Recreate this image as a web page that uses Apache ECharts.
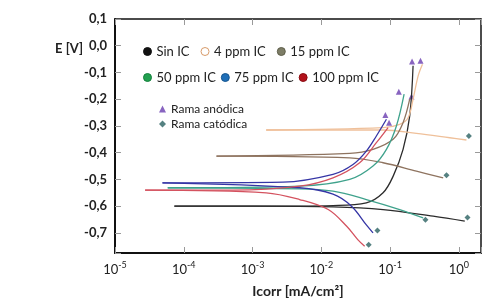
<!DOCTYPE html>
<html>
<head>
<meta charset="utf-8">
<script src="https://cdn.jsdelivr.net/npm/echarts@6/dist/echarts.min.js"></script>
<style>
  html, body { margin: 0; padding: 0; background: #fff; }
  #chart { width: 488px; height: 307px; }
</style>
</head>
<body>
<div id="chart"></div>
<script>
// curves: [Icorr (mA/cm2), E (V)]
var sinAnodic = [[7.3e-5, -0.600], [1e-3, -0.600], [0.0148, -0.5975], [0.0452, -0.5875], [0.0791, -0.550], [0.111, -0.4875], [0.1545, -0.3875], [0.193, -0.2625], [0.216, -0.075]];
var sinCathodic = [[7.3e-5, -0.600], [1e-3, -0.600], [0.0148, -0.6025], [0.0791, -0.6125], [0.423, -0.6375], [1.22, -0.656]];

var ic4Anodic = [[1.58e-3, -0.315], [0.0791, -0.306], [0.138, -0.294], [0.183, -0.269], [0.216, -0.200], [0.256, -0.1125], [0.296, -0.069]];
var ic4Cathodic = [[1.58e-3, -0.315], [0.0791, -0.315], [0.2415, -0.3275], [0.74, -0.344], [1.29, -0.3525]];

var ic15Anodic = [[2.99e-4, -0.4125], [0.0259, -0.4025], [0.0565, -0.3875], [0.1107, -0.350], [0.1545, -0.2875], [0.193, -0.200]];
var ic15Cathodic = [[2.99e-4, -0.4125], [0.0259, -0.419], [0.0791, -0.4375], [0.2415, -0.469], [0.592, -0.494]];

var ic50Anodic = [[5.85e-5, -0.531], [4.83e-3, -0.525], [0.0259, -0.500], [0.0565, -0.450], [0.0885, -0.3875], [0.1236, -0.300], [0.160, -0.181]];
var ic50Cathodic = [[5.85e-5, -0.531], [4.83e-3, -0.535], [0.0148, -0.544], [0.0452, -0.575], [0.138, -0.6125], [0.303, -0.644]];

var ic75Anodic = [[4.9e-5, -0.5125], [2.77e-3, -0.510], [0.0148, -0.481], [0.0289, -0.444], [0.0452, -0.394], [0.0632, -0.3375], [0.0885, -0.275]];
var ic75Cathodic = [[4.9e-5, -0.5125], [4.83e-3, -0.531], [0.0148, -0.555], [0.0275, -0.600], [0.0452, -0.670], [0.0565, -0.700]];

var ic100Anodic = [[2.74e-5, -0.540], [5.18e-4, -0.540], [4.83e-3, -0.525], [0.0148, -0.494], [0.0361, -0.4375], [0.0632, -0.3625], [0.0935, -0.306]];
var ic100Cathodic = [[2.74e-5, -0.540], [1.58e-3, -0.550], [4.83e-3, -0.575], [0.0126, -0.6125], [0.0234, -0.675], [0.0339, -0.725], [0.0427, -0.750]];

var anodicMarks = [[0.209, -0.059], [0.277, -0.056], [0.134, -0.1725], [0.205, -0.190], [0.0855, -0.259], [0.0966, -0.2875]];
var cathodicMarks = [[1.337, -0.6425], [1.40, -0.3375], [0.661, -0.484], [0.327, -0.651], [0.0655, -0.691], [0.0489, -0.744]];

var names = ['Sin IC', '4 ppm IC', '15 ppm IC', '50 ppm IC', '75 ppm IC', '100 ppm IC'];
var anodic = [sinAnodic, ic4Anodic, ic15Anodic, ic50Anodic, ic75Anodic, ic100Anodic];
var cathodic = [sinCathodic, ic4Cathodic, ic15Cathodic, ic50Cathodic, ic75Cathodic, ic100Cathodic];

var lineColors = ['#2b2b2b', '#efc09a', '#8e735f', '#3fa28c', '#3535a5', '#d4525f'];
var legendFill = ['#111111', '#ffffff', '#7d7d66', '#22a050', '#1f6fb8', '#b3121b'];
var legendBorder = ['#111111', '#d89b6a', '#5e5e4a', '#14803c', '#15558f', '#8a0c12'];

var font = 'Lato, "DejaVu Sans", sans-serif';

var series = [];
names.forEach(function(n, i) {
  [anodic[i], cathodic[i]].forEach(function(d) {
    series.push({
      name: n, type: 'line', data: d, showSymbol: false, smooth: 0.35,
      lineStyle: { color: lineColors[i], width: 1.3 },
      itemStyle: { color: legendFill[i] }
    });
  });
});
series.push({
  name: 'Rama anódica', type: 'scatter', data: anodicMarks, symbol: 'triangle', symbolSize: 6,
  itemStyle: { color: '#6a3db0' }
});
series.push({
  name: 'Rama catódica', type: 'scatter', data: cathodicMarks, symbol: 'diamond', symbolSize: 6,
  itemStyle: { color: '#2b6161' }
});

function legendItems(list) {
  return list.map(function(n) {
    var i = names.indexOf(n);
    return { name: n, itemStyle: { color: legendFill[i], borderColor: legendBorder[i], borderWidth: 1 } };
  });
}

var tickGray = '#9a9a9a';
var xBase = {
  type: 'log', logBase: 10, min: 1e-5, max: 2.1,
  axisLine: { onZero: false, lineStyle: { color: '#111', width: 2 } },
  axisTick: { inside: true, length: 6, lineStyle: { color: tickGray } },
  splitLine: { show: false }
};
var yBase = {
  type: 'value', min: -0.775, max: 0.1, minInterval: 0.1, maxInterval: 0.1,
  axisLine: { show: true, onZero: false, lineStyle: { color: '#111', width: 2 } },
  axisTick: { show: true, inside: true, length: 6, lineStyle: { color: tickGray } },
  splitLine: { show: false }
};

var chart = echarts.init(document.getElementById('chart'), null, { renderer: 'canvas' });
chart.setOption({
  animation: false,
  backgroundColor: '#fff',
  title: {
    text: 'E [V]', left: 50, top: 37,
    textStyle: { fontFamily: font, fontSize: 13, fontWeight: 'bold', color: '#222' }
  },
  grid: { left: 115, right: 7, top: 19, bottom: 54 },
  legend: [
    {
      data: legendItems(['Sin IC', '4 ppm IC', '15 ppm IC']), left: 138, top: 40, itemGap: 11,
      icon: 'circle', itemWidth: 8, itemHeight: 8,
      textStyle: { fontFamily: font, fontSize: 13, color: '#222' }
    },
    {
      data: legendItems(['50 ppm IC', '75 ppm IC', '100 ppm IC']), left: 138, top: 66, itemGap: 5,
      icon: 'circle', itemWidth: 8, itemHeight: 8,
      textStyle: { fontFamily: font, fontSize: 13, color: '#222' }
    },
    {
      data: [{ name: 'Rama anódica', icon: 'triangle' }, { name: 'Rama catódica', icon: 'diamond' }],
      orient: 'vertical', left: 154, top: 98, itemGap: 3, itemWidth: 7, itemHeight: 7,
      textStyle: { fontFamily: font, fontSize: 12, color: '#222' }
    }
  ],
  xAxis: [
    Object.assign({}, xBase, {
      position: 'bottom',
      name: 'Icorr [mA/cm²]', nameLocation: 'middle', nameGap: 31,
      nameTextStyle: { fontFamily: font, fontSize: 14, fontWeight: 'bold', color: '#222' },
      axisLabel: {
        margin: 6, fontFamily: font, fontSize: 13, color: '#222',
        formatter: function(v) {
          var p = Math.log10(v);
          if (Math.abs(p - Math.round(p)) > 1e-6) return '';
          return '{b|10}{s|' + Math.round(p) + '}';
        },
        rich: {
          b: { fontFamily: font, fontSize: 13, color: '#222', padding: [4, 0, 0, 0] },
          s: { fontFamily: font, fontSize: 9, color: '#222', padding: [0, 0, 4, 0] }
        }
      }
    }),
    Object.assign({}, xBase, {
      position: 'top', axisLabel: { show: false },
      axisLine: { onZero: false, lineStyle: { color: '#111', width: 1.5 } }
    })
  ],
  yAxis: [
    Object.assign({}, yBase, {
      position: 'left',
      axisLabel: {
        margin: 8, fontFamily: font, fontSize: 13, fontWeight: 'bold', color: '#222',
        formatter: function(v) {
          if (Math.abs(v * 10 - Math.round(v * 10)) > 1e-6) return '';
          var r = Math.round(v * 10) / 10;
          if (r === 0) r = 0;
          return r.toFixed(1).replace('.', ',');
        }
      }
    }),
    Object.assign({}, yBase, {
      position: 'right', axisLabel: { show: false },
      axisLine: { show: true, onZero: false, lineStyle: { color: '#111', width: 1.5 } }
    })
  ],
  series: series
});
</script>
</body>
</html>
